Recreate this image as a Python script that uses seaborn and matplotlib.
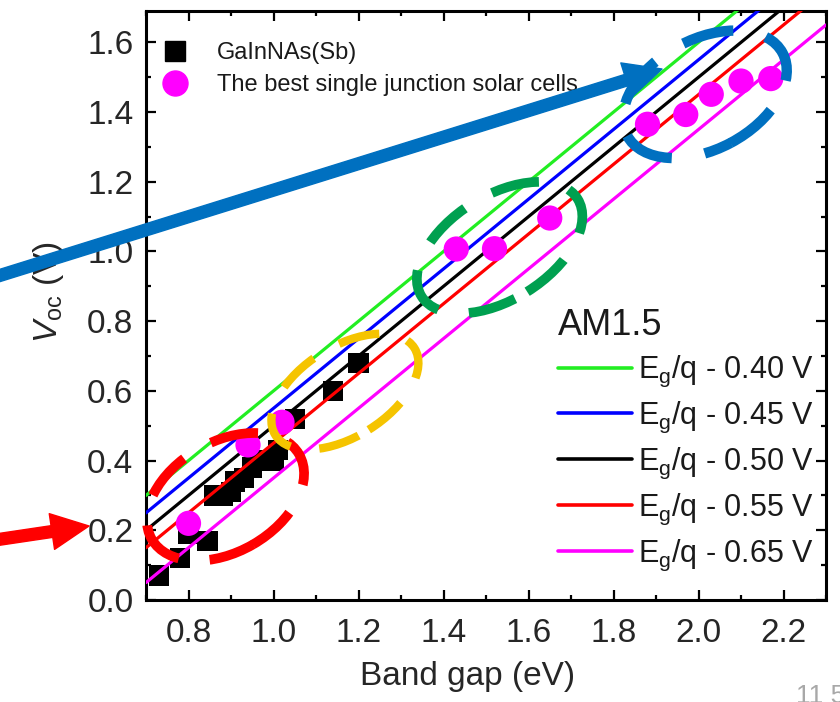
import numpy as np
import pandas as pd
import matplotlib
matplotlib.use("Agg")
import matplotlib.pyplot as plt
import seaborn as sns
from matplotlib.patches import Ellipse, FancyArrowPatch
from matplotlib.lines import Line2D
import matplotlib.transforms as mtransforms
from matplotlib.ticker import MultipleLocator

# ---------------- data ----------------
gainnas_eg = [0.73, 0.78, 0.80, 0.845, 0.86, 0.88, 0.90, 0.91, 0.93, 0.95, 0.96, 1.00, 1.01, 1.05, 1.14, 1.20]
gainnas_voc = [0.07, 0.12, 0.19, 0.17, 0.30, 0.30, 0.31, 0.34, 0.35, 0.38, 0.40, 0.40, 0.43, 0.52, 0.60, 0.68]
best_eg = [0.80, 0.94, 1.02, 1.43, 1.52, 1.65, 1.88, 1.97, 2.03, 2.10, 2.17]
best_voc = [0.22, 0.445, 0.51, 1.007, 1.008, 1.096, 1.365, 1.393, 1.451, 1.489, 1.496]
offsets = [0.40, 0.45, 0.50, 0.55, 0.65]
offset_labels = ["0.40", "0.45", "0.50", "0.55", "0.65"]
line_colors = ["#22ee22", "#0000ff", "#000000", "#ff0000", "#ff00ff"]
eg_range = [0.7, 2.3]
x_ticks = [0.8, 1.0, 1.2, 1.4, 1.6, 1.8, 2.0, 2.2]
y_ticks = [0.0, 0.2, 0.4, 0.6, 0.8, 1.0, 1.2, 1.4, 1.6]

# ---------------- style ----------------
sns.set_theme(style="ticks")
plt.rcParams["font.family"] = ["Liberation Sans", "DejaVu Sans"]
plt.rcParams["mathtext.fontset"] = "custom"
plt.rcParams["mathtext.rm"] = "Liberation Sans"
plt.rcParams["mathtext.it"] = "Liberation Sans:italic"
plt.rcParams["text.color"] = "#1a1a1a"

fig = plt.figure(figsize=(8.4, 7.02), dpi=100)
ax = fig.add_axes([146 / 840, 1 - 600 / 702, 680 / 840, 589 / 702])

# lines Voc = Eg/q - offset
rows = []
for off, lab in zip(offsets, offset_labels):
    for e in eg_range:
        rows.append({"Eg": e, "Voc": e - off, "label": lab})
df_lines = pd.DataFrame(rows)

df_sq = pd.DataFrame({"Eg": gainnas_eg, "Voc": gainnas_voc})
df_ci = pd.DataFrame({"Eg": best_eg, "Voc": best_voc})

sns.scatterplot(data=df_sq, x="Eg", y="Voc", marker="s", s=215, color="black",
                edgecolor="none", linewidth=0, ax=ax, zorder=2, legend=False)
sns.lineplot(data=df_lines, x="Eg", y="Voc", hue="label", palette=line_colors,
             linewidth=2.3, ax=ax, legend=False, zorder=3)
sns.scatterplot(data=df_ci, x="Eg", y="Voc", marker="o", s=330, color="#ff00ff",
                edgecolor="none", linewidth=0, ax=ax, zorder=4, legend=False)

ax.set_xlim(0.7, 2.3)
ax.set_ylim(0.0, 1.69)
ax.set_xticks(x_ticks)
ax.set_yticks(y_ticks)
ax.set_xticklabels([f"{v:.1f}" for v in x_ticks])
ax.set_yticklabels([f"{v:.1f}" for v in y_ticks])
ax.xaxis.set_minor_locator(MultipleLocator(0.1))
ax.yaxis.set_minor_locator(MultipleLocator(0.1))
ax.tick_params(which="both", direction="in", top=True, right=True, width=1.6,
               color="black")
ax.tick_params(which="major", length=7, labelsize=24, pad=9)
ax.tick_params(which="minor", length=3.5)
ax.tick_params(axis="x", which="major", pad=13)
for s in ax.spines.values():
    s.set_linewidth(2.2)
    s.set_color("black")

ax.set_xlabel("Band gap (eV)", fontsize=24)
ax.set_ylabel(r"$V_{\mathregular{oc}}$ (V)", fontsize=24)
ax.xaxis.set_label_coords(0.4735, -0.103)
ax.yaxis.set_label_coords(-0.118, 0.523)

# legend 1 (markers)
h1 = [Line2D([], [], marker="s", ls="none", color="black", markersize=14.5),
      Line2D([], [], marker="o", ls="none", color="#ff00ff", markersize=18)]
leg1 = ax.legend(h1, ["GaInNAs(Sb)", "The best single junction solar cells"],
                 loc="upper left", bbox_to_anchor=(0.008, 0.947), frameon=False,
                 fontsize=17, handlelength=2.0, handletextpad=0.78,
                 borderpad=0, borderaxespad=0, labelspacing=0.41)
ax.add_artist(leg1)

# legend 2 (lines)
h2 = [Line2D([], [], color=c, lw=2.6) for c in line_colors]
l2 = [r"E$_\mathregular{g}$/q - " + lab + " V" for lab in offset_labels]
leg2 = ax.legend(h2, l2, title="AM1.5", loc="upper left",
                 bbox_to_anchor=(0.606, 0.495), frameon=False, fontsize=22,
                 title_fontsize=26, handlelength=2.42, handletextpad=0.2,
                 borderpad=0, borderaxespad=0, labelspacing=0.35,
                 alignment="left")

# dashed highlight ellipses (centres in data units, sizes in pixels)
def ell(cx, cy, a_px, b_px, ang, color, lw, dashes):
    tr = fig.dpi_scale_trans + mtransforms.ScaledTranslation(cx, cy, ax.transData)
    e = Ellipse((0, 0), width=2 * a_px / 100, height=2 * b_px / 100, angle=ang,
                transform=tr, fill=False, edgecolor=color, lw=lw,
                linestyle=(0, dashes), zorder=6, clip_on=False)
    ax.add_patch(e)

ell(0.887, 0.296, 85, 55, 30, "#ff0000", 7.0, (5.0, 3.2))
ell(1.168, 0.598, 82, 45, 32, "#f5c400", 6.0, (5.0, 3.5))
ell(1.532, 1.011, 92, 52, 32, "#00a050", 7.0, (5.0, 3.2))
ell(2.015, 1.451, 88, 55, 28, "#0070c0", 7.5, (5.0, 3.2))

# arrows (figure pixel positions)
def arrow(p0, p1, color):
    a = FancyArrowPatch((p0[0] / 840, 1 - p0[1] / 702), (p1[0] / 840, 1 - p1[1] / 702),
                        transform=fig.transFigure,
                        arrowstyle="simple,head_length=2.7,head_width=2.6,tail_width=0.85",
                        mutation_scale=10, color=color, shrinkA=0, shrinkB=0,
                        zorder=7)
    fig.patches.append(a)

arrow((-5, 277), (662, 69), "#0070c0")
arrow((-5, 540), (89, 526), "#ff0000")

fig.text(796 / 840, 1 - 684 / 702, "11 5", color="#a8a8a8", fontsize=19, va="top")

fig.savefig("out.png", dpi=100)
